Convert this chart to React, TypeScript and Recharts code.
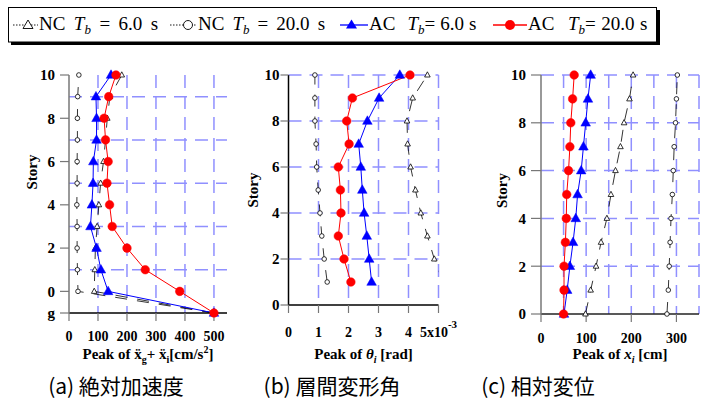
import React from 'react';
import { LineChart, Line, XAxis, YAxis, CartesianGrid } from 'recharts';

// ---------------- data ----------------
// (a) absolute acceleration, stories bottom-up (-1 = ground "g")
const storyA = [-1, 0, 1, 2, 3, 4, 5, 6, 7, 8, 9, 10];
const accNC6 = [500, 87, 89, 91, 97, 103, 109, 119, 126, 132, 141, 182];
const accNC20 = [500, 31, 29, 28, 28, 27, 28, 28, 29, 29, 30, 34];
const accAC6 = [500, 135, 110, 95, 74, 79, 83, 84, 95, 95, 93, 145];
const accAC20 = [500, 382, 263, 200, 149, 140, 131, 135, 126, 121, 137, 162];

// (b) inter-story drift angle (x10^-3 rad)
const storyB = [1, 2, 3, 4, 5, 6, 7, 8, 9, 10];
const driftNC6 = [5.15, 4.86, 4.63, 4.41, 4.23, 4.07, 3.97, 3.95, 4.14, 4.63];
const driftNC20 = [1.29, 1.19, 1.11, 1.05, 0.99, 0.94, 0.92, 0.88, 0.88, 0.88];
const driftAC6 = [2.77, 2.69, 2.61, 2.52, 2.46, 2.41, 2.34, 2.63, 3.02, 3.71];
const driftAC20 = [2.08, 1.85, 1.66, 1.75, 1.73, 1.66, 2.02, 1.94, 2.13, 4.05];

// (c) relative displacement (cm)
const storyC = [0, 1, 2, 3, 4, 5, 6, 7, 8, 9, 10];
const dispNC6 = [98.5, 110, 122, 133, 146, 155, 165, 176, 184, 196, 204];
const dispNC20 = [279, 282, 284, 286, 288, 291, 293, 295, 298, 300, 302];
const dispAC6 = [51, 58, 64, 71, 77, 81, 89, 94, 99, 104, 110];
const dispAC20 = [50, 51, 51, 54, 56, 57, 61, 64, 66, 70, 73.5];

// ticks / grid values
const xTicksA = [0, 100, 200, 300, 400, 500];
const yTicksA = [-1, 0, 2, 4, 6, 8, 10];
const hGridA = [1, 3, 5, 7, 9];
const vGridA = [100, 200, 300, 400, 500];

const xTicksB = [0, 1, 2, 3, 4, 5];
const yTicksB = [0, 2, 4, 6, 8, 10];
const hGridB = [2, 4, 6, 8, 10];
const vGridB = [1, 2, 3, 4, 5];

const xTicksC = [0, 100, 200, 300];
const yTicksC = [0, 2, 4, 6, 8, 10];
const hGridC = [2, 4, 6, 8, 10];
const vGridC = [50, 100, 150, 200, 250, 300, 350];

const legendNames = ['NC', 'NC', 'AC', 'AC'];
const legendPeriods = ['6.0', '20.0', '6.0', '20.0'];
const captions = ['(a) 絶対加速度', '(b) 層間変形角', '(c) 相対変位'];

// ---------------- styles ----------------
const SERIF = 'Liberation Serif, Times New Roman, serif';
const BLUE = '#0000ff';
const RED = '#ff0000';
const GRID = '#9090ff';

const rows = (story: number[], nc6: number[], nc20: number[], ac6: number[], ac20: number[]) =>
  story.map((s, i) => ({ story: s, nc6: nc6[i], nc20: nc20[i], ac6: ac6[i], ac20: ac20[i] }));

const dataA = rows(storyA, accNC6, accNC20, accAC6, accAC20);
const dataB = rows(storyB, driftNC6, driftNC20, driftAC6, driftAC20);
const dataC = rows(storyC, dispNC6, dispNC20, dispAC6, dispAC20);

// ---------------- markers ----------------
const makeDot = (kind: string) => (p: any) => {
  const { cx, cy, index } = p;
  const key = `${kind}-${index}`;
  if (cx == null || cy == null || isNaN(cx) || isNaN(cy)) return <g key={key} />;
  if (kind === 'triOpen')
    return (
      <path key={key} d={`M${cx},${cy - 3.2} L${cx + 2.8},${cy + 2} L${cx - 2.8},${cy + 2} Z`}
        fill="#fff" stroke="#000" strokeWidth={0.8} />
    );
  if (kind === 'circOpen')
    return <circle key={key} cx={cx} cy={cy} r={2.3} fill="#fff" stroke="#000" strokeWidth={0.8} />;
  if (kind === 'triBlue')
    return (
      <path key={key} d={`M${cx},${cy - 5.2} L${cx + 4.8},${cy + 3.3} L${cx - 4.8},${cy + 3.3} Z`}
        fill={BLUE} stroke={BLUE} strokeWidth={0.5} />
    );
  return <circle key={key} cx={cx} cy={cy} r={4.3} fill={RED} stroke={RED} strokeWidth={0.5} />;
};

// ---------------- axis titles / ticks ----------------
const XTitle = (props: any) => {
  const { viewBox, panel, dy } = props;
  if (!viewBox) return null;
  const cx = viewBox.x + viewBox.width / 2;
  const y = viewBox.y + dy;
  const common = { x: cx, y, textAnchor: 'middle' as const, fontFamily: SERIF, fontWeight: 700, fontSize: 15, fill: '#000' };
  if (panel === 'a')
    return (
      <text {...common}>
        Peak of {'x\u0308'}
        <tspan fontSize={10} dy={4}>g</tspan>
        <tspan dy={-4}>+ {'x\u0308'}</tspan>
        <tspan fontSize={10} dy={4}>i</tspan>
        <tspan dy={-4}>[cm/s</tspan>
        <tspan fontSize={10} dy={-6}>2</tspan>
        <tspan dy={6}>]</tspan>
      </text>
    );
  if (panel === 'b')
    return (
      <text {...common}>
        Peak of <tspan fontStyle="italic">θ</tspan>
        <tspan fontSize={10} fontStyle="italic" dy={4}>i</tspan>
        <tspan dy={-4}> [rad]</tspan>
      </text>
    );
  return (
    <text {...common}>
      Peak of <tspan fontStyle="italic">x</tspan>
      <tspan fontSize={10} fontStyle="italic" dy={4}>i</tspan>
      <tspan dy={-4}> [cm]</tspan>
    </text>
  );
};

const YTitle = (props: any) => {
  const { viewBox, sx, sdy } = props;
  if (!viewBox) return null;
  const x = viewBox.x + sx;
  const y = viewBox.y + viewBox.height / 2 + sdy;
  return (
    <text x={x} y={y} textAnchor="middle" dominantBaseline="central" transform={`rotate(-90 ${x} ${y})`}
      fontFamily={SERIF} fontWeight={700} fontSize={15} fill="#000">
      Story
    </text>
  );
};

const XTick = (props: any) => {
  const { x, y, payload, sci } = props;
  const v = payload.value;
  return (
    <text x={x} y={y} dy="0.71em" textAnchor="middle" fontFamily={SERIF} fontWeight={700} fontSize={14} fill="#000">
      {sci && v === 5 ? (
        <>
          5x10<tspan fontSize={11} dy={-9}>-3</tspan>
        </>
      ) : (
        String(v)
      )}
    </text>
  );
};

const YTick = (props: any) => {
  const { x, y, payload } = props;
  const v = payload.value;
  return (
    <text x={x} y={y} dy="0.36em" textAnchor="end" fontFamily={SERIF} fontWeight={700} fontSize={15} fill="#000">
      {v === -1 ? 'g' : String(v)}
    </text>
  );
};

// ---------------- panel ----------------
type PanelCfg = {
  key: string;
  left: number;
  width: number;
  height: number;
  margin: { top: number; right: number; bottom: number; left: number };
  yAxisWidth: number;
  xAxisHeight: number;
  data: any[];
  xDomain: [number, number];
  yDomain: [number, number];
  xTicks: number[];
  yTicks: number[];
  hGrid: number[];
  vGrid: number[];
  yAxisColor: string;
  xAxisColor: string;
  yTickSize: number;
  yTickMargin: number;
  xTickSize: number;
  xTickMargin: number;
  titleDy: number;
  storyX: number;
  storyDy: number;
  overflow: boolean;
};

const panels: PanelCfg[] = [
  {
    key: 'a', left: 0, width: 240, height: 370,
    margin: { top: 75, right: 13, bottom: 0, left: 0 }, yAxisWidth: 69, xAxisHeight: 57,
    data: dataA, xDomain: [0, 545], yDomain: [-1, 10], xTicks: xTicksA, yTicks: yTicksA,
    hGrid: hGridA, vGrid: vGridA, yAxisColor: '#777', xAxisColor: '#000',
    yTickSize: 9, yTickMargin: 5, xTickSize: 8, xTickMargin: 10, titleDy: 46, storyX: 31.7, storyDy: -22,
    overflow: false,
  },
  {
    key: 'b', left: 236, width: 230, height: 370,
    margin: { top: 75, right: 27.5, bottom: 0, left: 0 }, yAxisWidth: 52.5, xAxisHeight: 65,
    data: dataB, xDomain: [0, 5], yDomain: [0, 10], xTicks: xTicksB, yTicks: yTicksB,
    hGrid: hGridB, vGrid: vGridB, yAxisColor: '#000', xAxisColor: '#000',
    yTickSize: 8, yTickMargin: 1, xTickSize: 8, xTickMargin: 14, titleDy: 54, storyX: 17, storyDy: 0,
    overflow: true,
  },
  {
    key: 'c', left: 470, width: 240, height: 370,
    margin: { top: 75, right: 11, bottom: 0, left: 0 }, yAxisWidth: 71, xAxisHeight: 56,
    data: dataC, xDomain: [0, 350], yDomain: [0, 10], xTicks: xTicksC, yTicks: yTicksC,
    hGrid: hGridC, vGrid: vGridC, yAxisColor: '#777', xAxisColor: '#222',
    yTickSize: 10, yTickMargin: 5, xTickSize: 8, xTickMargin: 11, titleDy: 45, storyX: 31.7, storyDy: -4,
    overflow: false,
  },
];

const Panel = ({ cfg }: { cfg: PanelCfg }) => (
  <div style={{ position: 'absolute', left: cfg.left, top: 0, fontFamily: SERIF, fontWeight: 700 }}>
    <LineChart layout="vertical" width={cfg.width} height={cfg.height} data={cfg.data} margin={cfg.margin}>
      <CartesianGrid stroke={GRID} strokeWidth={1.5} strokeDasharray="13 8"
        horizontalValues={cfg.hGrid} verticalValues={cfg.vGrid} />
      <XAxis type="number" domain={cfg.xDomain} ticks={cfg.xTicks} interval={0}
        allowDataOverflow={cfg.overflow} height={cfg.xAxisHeight}
        tickSize={cfg.xTickSize} tickMargin={cfg.xTickMargin}
        axisLine={{ stroke: cfg.xAxisColor, strokeWidth: 1.5 }}
        tickLine={{ stroke: '#777', strokeWidth: 1.2 }}
        tick={<XTick sci={cfg.key === 'b'} />}
        label={<XTitle panel={cfg.key} dy={cfg.titleDy} />} />
      <YAxis type="number" dataKey="story" domain={cfg.yDomain} ticks={cfg.yTicks} interval={0}
        reversed width={cfg.yAxisWidth}
        tickSize={cfg.yTickSize} tickMargin={cfg.yTickMargin}
        axisLine={{ stroke: cfg.yAxisColor, strokeWidth: 1.5 }}
        tickLine={{ stroke: '#777', strokeWidth: 1.2 }}
        tick={<YTick />}
        label={<YTitle sx={cfg.storyX} sdy={cfg.storyDy} />} />
      <Line dataKey="nc20" stroke="#000" strokeWidth={0.8} strokeDasharray="12 10"
        dot={makeDot('circOpen')} activeDot={false} isAnimationActive={false} />
      <Line dataKey="nc6" stroke="#000" strokeWidth={0.8} strokeDasharray="12 10"
        dot={makeDot('triOpen')} activeDot={false} isAnimationActive={false} />
      <Line dataKey="ac6" stroke={BLUE} strokeWidth={1}
        dot={makeDot('triBlue')} activeDot={false} isAnimationActive={false} />
      <Line dataKey="ac20" stroke={RED} strokeWidth={1}
        dot={makeDot('circRed')} activeDot={false} isAnimationActive={false} />
    </LineChart>
  </div>
);

// ---------------- legend ----------------
const legendItems = [
  { lineFrom: 13, lineTo: 38, mx: 28, marker: 'triOpen', nameX: 39, tDx: 0, eqLead: ' ', ws: 3.7 },
  { lineFrom: 170, lineTo: 197, mx: 188, marker: 'circOpen', nameX: 198, tDx: 0, eqLead: ' ', ws: 3.3 },
  { lineFrom: 340, lineTo: 368, mx: 351.5, marker: 'triBlue', nameX: 369, tDx: 7, eqLead: '', ws: 0.3 },
  { lineFrom: 493, lineTo: 527, mx: 510, marker: 'circRed', nameX: 528, tDx: 8, eqLead: '', ws: 0.8 },
];

const LegendMarker = ({ kind, x, y }: { kind: string; x: number; y: number }) => {
  if (kind === 'triOpen')
    return <path d={`M${x},${y - 5} L${x + 5},${y + 3.5} L${x - 5},${y + 3.5} Z`} fill="#fff" stroke="#000" strokeWidth={0.9} />;
  if (kind === 'circOpen') return <circle cx={x} cy={y} r={4.5} fill="#fff" stroke="#000" strokeWidth={0.9} />;
  if (kind === 'triBlue')
    return <path d={`M${x},${y - 5.5} L${x + 5.5},${y + 3.5} L${x - 5.5},${y + 3.5} Z`} fill={BLUE} />;
  return <circle cx={x} cy={y} r={5} fill={RED} />;
};

const Legend = () => (
  <svg width={710} height={50} style={{ position: 'absolute', left: 0, top: 0 }}>
    <rect x={11} y={10} width={649} height={35} fill="#000" />
    <rect x={8.5} y={7.5} width={648} height={34.5} fill="#fff" stroke="#000" strokeWidth={1} />
    {legendItems.map((it, i) => {
      const open = it.marker === 'triOpen' || it.marker === 'circOpen';
      const color = it.marker === 'triBlue' ? BLUE : it.marker === 'circRed' ? RED : '#000';
      return (
        <g key={i}>
          <line x1={it.lineFrom} x2={it.lineTo} y1={25} y2={25} stroke={color} strokeWidth={open ? 0.9 : 1.3}
            strokeDasharray={open ? '1.5 1.5' : undefined} />
          <LegendMarker kind={it.marker} x={it.mx} y={25} />
          <text x={it.nameX} y={30} fontSize={19} fontFamily={SERIF} fontWeight={400} fill="#000"
            wordSpacing={it.ws} xmlSpace="preserve">
            {`${legendNames[i]} `}
            <tspan fontStyle="italic" dx={it.tDx}>T</tspan>
            <tspan fontStyle="italic" fontSize={13} dy={4}>b</tspan>
            <tspan dy={-4}>{`${it.eqLead}= ${legendPeriods[i]} s`}</tspan>
          </text>
        </g>
      );
    })}
  </svg>
);

// ---------------- captions ----------------
const captionCenters = [116, 332, 538];

export default function App() {
  return (
    <div style={{ position: 'absolute', left: 0, top: 0, width: 710, height: 401, background: '#fff', overflow: 'hidden' }}>
      {panels.map((p) => (
        <Panel key={p.key} cfg={p} />
      ))}
      <Legend />
      {captions.map((c, i) => (
        <div key={i} style={{
          position: 'absolute', left: captionCenters[i] - 100, top: 371, width: 200, textAlign: 'center',
          fontFamily: '"Noto Sans CJK JP", "Noto Sans", sans-serif', fontSize: 21, lineHeight: '28px', color: '#000',
          whiteSpace: 'pre',
        }}>
          {c}
        </div>
      ))}
    </div>
  );
}
